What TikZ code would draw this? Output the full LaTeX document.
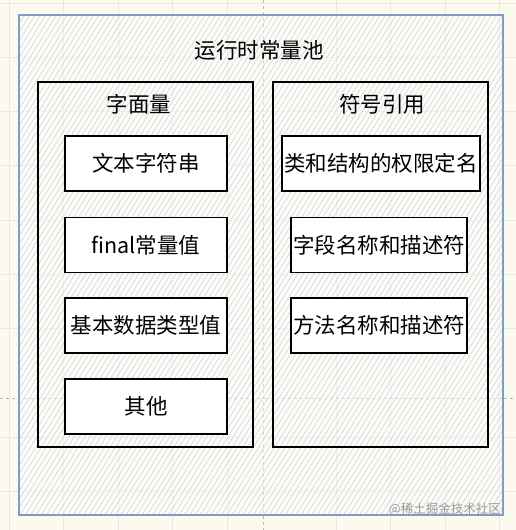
\documentclass[tikz,border=0pt]{standalone}
\usepackage{fontspec}
\setmainfont{Noto Sans CJK SC}
\usetikzlibrary{patterns.meta}
\definecolor{bgc}{HTML}{FCFAEF}
\definecolor{gridc}{HTML}{E8E8E2}
\definecolor{hatchc}{HTML}{CDD4DE}
\definecolor{poolc}{HTML}{7F9CC6}
\definecolor{wmc}{HTML}{9A9A9A}
\tikzset{
  poolbox/.style={draw=poolc, line width=1.6pt, minimum width=484pt, minimum height=500pt,
    preaction={fill=white, fill opacity=0.45},
    pattern={Lines[angle=58,distance=4.5pt,line width=0.6pt]}, pattern color=hatchc},
  colbox/.style={draw=black, line width=1.3pt, minimum width=215pt, minimum height=365pt},
  itembox/.style={draw=black, line width=1.3pt, fill=white, minimum height=55pt, inner sep=0pt,
    font=\fontsize{21.5}{24}\selectfont},
  lbltext/.style={font=\fontsize{21.5}{24}\selectfont, inner sep=0pt},
  wmtext/.style={font=\fontsize{12.5}{14}\selectfont, text=wmc, inner sep=0pt}
}
\begin{document}
\begin{tikzpicture}[x=1pt,y=-1pt]
\useasboundingbox (0,0) rectangle (516,530);
\fill[bgc] (0,0) rectangle (516,530);
\foreach \gx in {9,63,118,172,227,336,390,445,499}{\draw[gridc, line width=0.5pt] (\gx,0) -- (\gx,530);}
\foreach \gy in {3,57,111,165,220,274,328,437,491}{\draw[gridc, line width=0.5pt] (0,\gy) -- (516,\gy);}
\draw[gridc!80!black, line width=0.5pt, dash pattern=on 3pt off 3pt] (263,0) -- (263,530);
\draw[gridc!80!black, line width=0.5pt, dash pattern=on 3pt off 3pt] (0,398) -- (516,398);
\node[poolbox] (pool) at (261,265) {};
\node[lbltext] (title) at (259,50) {运行时常量池};
\node[colbox] (lit) at (145.5,264.5) {};
\node[colbox] (sym) at (380.5,264.5) {};
\node[lbltext] (littitle) at (139,104) {字面量};
\node[lbltext] (symtitle) at (382,104) {符号引用};
\node[itembox, minimum width=162pt] (l1) at (146,163.5) {文本字符串};
\node[itembox, minimum width=162pt] (l2) at (146,245) {final常量值};
\node[itembox, minimum width=162pt] (l3) at (146,325.5) {基本数据类型值};
\node[itembox, minimum width=162pt] (l4) at (146,406.5) {其他};
\node[itembox, minimum width=198pt] (r1) at (381,163.5) {类和结构的权限定名};
\node[itembox, minimum width=176pt] (r2) at (379,245) {字段名称和描述符};
\node[itembox, minimum width=176pt] (r3) at (379,325.5) {方法名称和描述符};
\node[wmtext, anchor=east] (wm) at (501,509) {@稀土掘金技术社区};
\end{tikzpicture}
\end{document}
